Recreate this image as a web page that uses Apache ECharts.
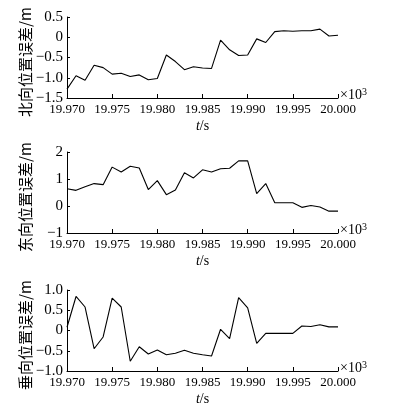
<!DOCTYPE html>
<html>
<head>
<meta charset="utf-8">
<script src="https://cdn.jsdelivr.net/npm/echarts@6/dist/echarts.min.js"></script>
<style>
  html, body { margin: 0; padding: 0; background: #fff; }
  #chart { width: 395px; height: 413px; }
</style>
</head>
<body>
<div id="chart"></div>
<script>
// time, unit: ×10^3 s
const tValues = [
  19.970, 19.971, 19.972, 19.973, 19.974, 19.975, 19.976, 19.977, 19.978, 19.979,
  19.980, 19.981, 19.982, 19.983, 19.984, 19.985, 19.986, 19.987, 19.988, 19.989,
  19.990, 19.991, 19.992, 19.993, 19.994, 19.995, 19.996, 19.997, 19.998, 19.999,
  20.000
];
const xTicks = [19.970, 19.975, 19.980, 19.985, 19.990, 19.995, 20.000];

const northErr = [
  -1.28, -0.95, -1.06, -0.69, -0.75, -0.91, -0.89, -0.97, -0.93, -1.05,
  -1.02, -0.44, -0.60, -0.80, -0.73, -0.76, -0.77, -0.07, -0.31, -0.45,
  -0.44, -0.04, -0.13, 0.14, 0.16, 0.15, 0.16, 0.16, 0.20, 0.03,
  0.05
];
const eastErr = [
  0.64, 0.58, 0.71, 0.83, 0.79, 1.44, 1.26, 1.47, 1.41, 0.61,
  0.94, 0.42, 0.59, 1.23, 1.04, 1.34, 1.26, 1.38, 1.40, 1.67,
  1.67, 0.46, 0.83, 0.12, 0.12, 0.12, -0.05, 0.02, -0.04, -0.19,
  -0.19
];
const upErr = [
  0.08, 0.84, 0.58, -0.45, -0.16, 0.80, 0.58, -0.76, -0.40, -0.58,
  -0.48, -0.60, -0.56, -0.49, -0.56, -0.60, -0.63, 0.03, -0.20, 0.81,
  0.56, -0.32, -0.07, -0.07, -0.07, -0.07, 0.11, 0.10, 0.14, 0.09,
  0.09
];

const yNames = ['北向位置误差/m', '东向位置误差/m', '垂向位置误差/m'];
const yRanges = [[-1.5, 0.5, 0.5], [-1, 2, 1], [-1, 1, 0.5]];
const seriesData = [northErr, eastErr, upErr];
const gridTops = [17, 152, 290];

const chart = echarts.init(document.getElementById('chart'));

const serif = '"Liberation Serif", "Times New Roman", serif';
const cjk = '"Noto Sans CJK SC", sans-serif';

const fmtY = (step) => (v) => {
  if (Math.abs(v) < 1e-9) return '0';
  const s = step < 1 ? v.toFixed(1) : String(Math.round(v));
  return s.replace('-', '−');
};

const grid = [], xAxis = [], yAxis = [], series = [], graphic = [];
for (let k = 0; k < 3; k++) {
  grid.push({ left: 67, right: 57, top: gridTops[k], height: 81 });
  xAxis.push({
    type: 'value',
    gridIndex: k,
    min: 19.970,
    max: 20.000,
    interval: 0.005,
    name: '{i|t}/s',
    nameLocation: 'middle',
    nameGap: 21,
    nameMoveOverlap: false,
    nameTextStyle: {
      fontFamily: serif, fontSize: 14, color: '#000',
      rich: { i: { fontFamily: serif, fontSize: 14, fontStyle: 'italic', color: '#000' } }
    },
    axisLine: { show: true, onZero: false, lineStyle: { color: '#000', width: 1 } },
    axisTick: { show: true, inside: true, length: 4, lineStyle: { color: '#000' } },
    axisLabel: {
      color: '#000', fontFamily: serif, fontSize: 13, margin: 5,
      formatter: (v) => v.toFixed(3)
    },
    splitLine: { show: false }
  });
  const r = yRanges[k];
  yAxis.push({
    type: 'value',
    gridIndex: k,
    min: r[0],
    max: r[1],
    interval: r[2],
    name: yNames[k],
    nameLocation: 'middle',
    nameRotate: 90,
    nameGap: 34,
    nameMoveOverlap: false,
    nameTextStyle: { fontFamily: cjk, fontSize: 15, color: '#000', padding: [0, 9, 0, 0] },
    axisLine: { show: true, lineStyle: { color: '#000', width: 1 } },
    axisTick: { show: true, inside: true, length: 3, lineStyle: { color: '#000' } },
    axisLabel: {
      color: '#000', fontFamily: serif, fontSize: 15, margin: 4,
      formatter: fmtY(r[2])
    },
    splitLine: { show: false }
  });
  series.push({
    type: 'line',
    xAxisIndex: k,
    yAxisIndex: k,
    showSymbol: false,
    symbol: 'none',
    lineStyle: { color: '#000', width: 1.1 },
    data: tValues.map((t, i) => [t, seriesData[k][i]])
  });
  graphic.push({
    type: 'text',
    left: 340,
    top: gridTops[k] + 70,
    style: {
      text: '×10{s|3}',
      fill: '#000',
      font: '14px ' + serif,
      rich: { s: { fontSize: 10, fontFamily: serif, fill: '#000', verticalAlign: 'top', padding: [0, 0, 6, 0] } }
    }
  });
}

chart.setOption({
  animation: false,
  backgroundColor: '#fff',
  grid: grid,
  xAxis: xAxis,
  yAxis: yAxis,
  series: series,
  graphic: graphic
});
</script>
</body>
</html>
